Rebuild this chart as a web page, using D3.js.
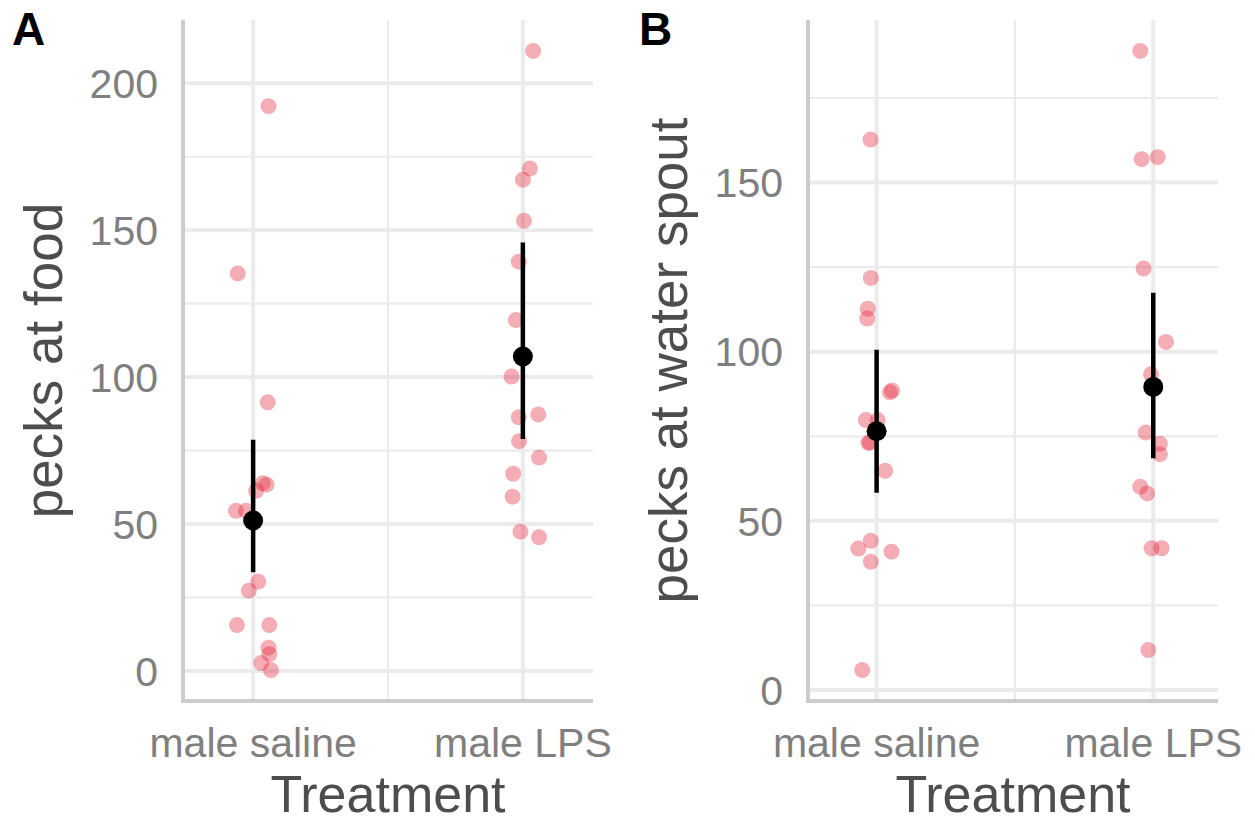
<!DOCTYPE html>
<html>
<head>
<meta charset="utf-8">
<script src="https://cdn.jsdelivr.net/npm/d3@7"></script>
<style>
  body { margin: 0; background: #fff; }
  text { font-family: "Liberation Sans", Arial, sans-serif; }
</style>
</head>
<body>
<svg id="chart"></svg>
<script>
// Treatment groups (x categories)
const groups = ["male saline", "male LPS"];

// Panel A: pecks at food, values and horizontal jitter (in category units)
const foodSaline = [192.2, 135.3, 91.4, 63.9, 63.4, 61.3, 54.5, 54.5, 30.4, 27.3, 15.6, 15.6, 7.9, 5.7, 2.7, 0.3];
const foodSalineJitter = [0.057, -0.057, 0.054, 0.036, 0.05, 0.011, -0.064, -0.027, 0.019, -0.016, -0.06, 0.06, 0.057, 0.06, 0.03, 0.066];
const foodLPS = [211, 171, 167.2, 153.2, 139.3, 119.4, 100.2, 86.3, 87.3, 78.2, 72.6, 67.1, 59.3, 47.4, 45.5];
const foodLPSJitter = [0.038, 0.026, 0, 0.004, -0.015, -0.026, -0.042, -0.015, 0.057, -0.014, 0.06, -0.036, -0.038, -0.009, 0.06];

// Panel B: pecks at water spout
const waterSaline = [162.7, 121.8, 112.7, 109.8, 88.5, 88, 79.8, 79.8, 73.1, 73.1, 64.8, 44.1, 41.8, 40.9, 37.9, 5.9];
const waterSalineJitter = [-0.022, -0.021, -0.032, -0.034, 0.056, 0.048, -0.039, 0.004, -0.03, -0.024, 0.031, -0.021, -0.066, 0.054, -0.021, -0.052];
const waterLPS = [188.9, 156.9, 157.5, 124.6, 102.9, 93.3, 76.1, 72.8, 69.7, 60.1, 58.1, 41.9, 41.9, 11.8];
const waterLPSJitter = [-0.047, -0.042, 0.016, -0.035, 0.046, -0.008, -0.027, 0.024, 0.024, -0.047, -0.022, -0.006, 0.03, -0.018];

// Summary (mean with interval) per group
const foodMean = [51.2, 107.0];
const foodLow = [33.6, 78.9];
const foodHigh = [78.7, 145.8];
const waterMean = [76.5, 89.6];
const waterLow = [58.3, 68.5];
const waterHigh = [100.6, 117.4];

// Tick labels
const foodTicks = [0, 50, 100, 150, 200];
const waterTicks = [0, 50, 100, 150];

const width = 1255;
const height = 824;

const svg = d3.select('#chart')
    .attr('width', width)
    .attr('height', height);

const gridColor = '#ebebeb';
const axisColor = '#cccccc';
const pointColor = 'rgb(230, 40, 60)';

function drawPanel(opts) {
    const left = opts.left;
    const right = left + 410;
    const top = 20;
    const bottom = 701;

    // y domain: data range expanded by 5% like ggplot
    const all = opts.series[0].concat(opts.series[1]);
    const ext = d3.extent(all);
    const pad = (ext[1] - ext[0]) * 0.05;

    const y = d3.scaleLinear()
        .domain([ext[0] - pad, ext[1] + pad])
        .range([bottom, top]);

    const x = d3.scaleLinear()
        .domain(opts.xDomain)
        .range([left, right]);

    const g = svg.append('g');

    // minor horizontal grid
    const minor = opts.ticks.map(t => t + 25)
        .filter(v => y(v) > top);
    g.selectAll('.minor-h')
        .data(minor)
        .enter()
        .append('line')
        .attr('x1', left).attr('x2', right)
        .attr('y1', d => y(d)).attr('y2', d => y(d))
        .attr('stroke', gridColor)
        .attr('stroke-width', 2.2);

    // major horizontal grid
    g.selectAll('.major-h')
        .data(opts.ticks)
        .enter()
        .append('line')
        .attr('x1', left).attr('x2', right)
        .attr('y1', d => y(d)).attr('y2', d => y(d))
        .attr('stroke', gridColor)
        .attr('stroke-width', 4);

    // vertical grid: minor between groups, major at groups
    g.append('line')
        .attr('x1', x(1.5)).attr('x2', x(1.5))
        .attr('y1', top).attr('y2', bottom)
        .attr('stroke', gridColor)
        .attr('stroke-width', 2.2);

    g.selectAll('.major-v')
        .data(groups)
        .enter()
        .append('line')
        .attr('x1', (d, i) => x(i + 1)).attr('x2', (d, i) => x(i + 1))
        .attr('y1', top).attr('y2', bottom)
        .attr('stroke', gridColor)
        .attr('stroke-width', 4);

    // axis lines
    g.append('line')
        .attr('x1', left).attr('x2', left)
        .attr('y1', top).attr('y2', bottom + 2)
        .attr('stroke', axisColor)
        .attr('stroke-width', 4);
    g.append('line')
        .attr('x1', left - 2).attr('x2', right)
        .attr('y1', bottom).attr('y2', bottom)
        .attr('stroke', axisColor)
        .attr('stroke-width', 4);

    // y tick labels
    g.selectAll('.ytick')
        .data(opts.ticks)
        .enter()
        .append('text')
        .attr('x', left - 25)
        .attr('y', d => y(d))
        .attr('dy', '0.36em')
        .attr('text-anchor', 'end')
        .style('font-size', '41px')
        .style('fill', '#7f7f7f')
        .text(d => d);

    // x tick labels
    g.selectAll('.xtick')
        .data(groups)
        .enter()
        .append('text')
        .attr('x', (d, i) => x(i + 1))
        .attr('y', 757)
        .attr('text-anchor', 'middle')
        .style('font-size', '41px')
        .style('fill', '#7f7f7f')
        .text(d => d);

    // jittered raw points
    opts.series.forEach((vals, gi) => {
        g.selectAll('.pt' + gi)
            .data(vals)
            .enter()
            .append('circle')
            .attr('cx', (d, i) => x(gi + 1 + opts.jitter[gi][i]))
            .attr('cy', d => y(d))
            .attr('r', 8)
            .style('fill', pointColor)
            .style('fill-opacity', 0.38);
    });

    // mean and interval
    g.selectAll('.err')
        .data(groups)
        .enter()
        .append('line')
        .attr('x1', (d, i) => x(i + 1)).attr('x2', (d, i) => x(i + 1))
        .attr('y1', (d, i) => y(opts.low[i]))
        .attr('y2', (d, i) => y(opts.high[i]))
        .attr('stroke', '#000')
        .attr('stroke-width', 4.5);

    g.selectAll('.mean')
        .data(opts.mean)
        .enter()
        .append('circle')
        .attr('cx', (d, i) => x(i + 1))
        .attr('cy', d => y(d))
        .attr('r', 10)
        .style('fill', '#000');

    // axis titles
    g.append('text')
        .attr('x', (left + right) / 2)
        .attr('y', 812)
        .attr('text-anchor', 'middle')
        .style('font-size', '52px')
        .style('fill', '#4d4d4d')
        .text('Treatment');

    g.append('text')
        .attr('transform', `translate(${left - 121}, ${(top + bottom) / 2}) rotate(-90)`)
        .attr('text-anchor', 'middle')
        .style('font-size', '53px')
        .style('fill', '#4d4d4d')
        .text(opts.yTitle);

    // panel tag
    g.append('text')
        .attr('x', opts.tagX)
        .attr('y', 45)
        .style('font-size', '46px')
        .style('font-weight', 'bold')
        .style('fill', '#000')
        .text(opts.tag);
}

drawPanel({
    left: 183,
    xDomain: [0.74, 2.26],
    series: [foodSaline, foodLPS],
    jitter: [foodSalineJitter, foodLPSJitter],
    mean: foodMean, low: foodLow, high: foodHigh,
    ticks: foodTicks,
    yTitle: 'pecks at food',
    tag: 'A', tagX: 12
});

drawPanel({
    left: 808,
    xDomain: [0.752, 2.234],
    series: [waterSaline, waterLPS],
    jitter: [waterSalineJitter, waterLPSJitter],
    mean: waterMean, low: waterLow, high: waterHigh,
    ticks: waterTicks,
    yTitle: 'pecks at water spout',
    tag: 'B', tagX: 639
});
</script>
</body>
</html>
